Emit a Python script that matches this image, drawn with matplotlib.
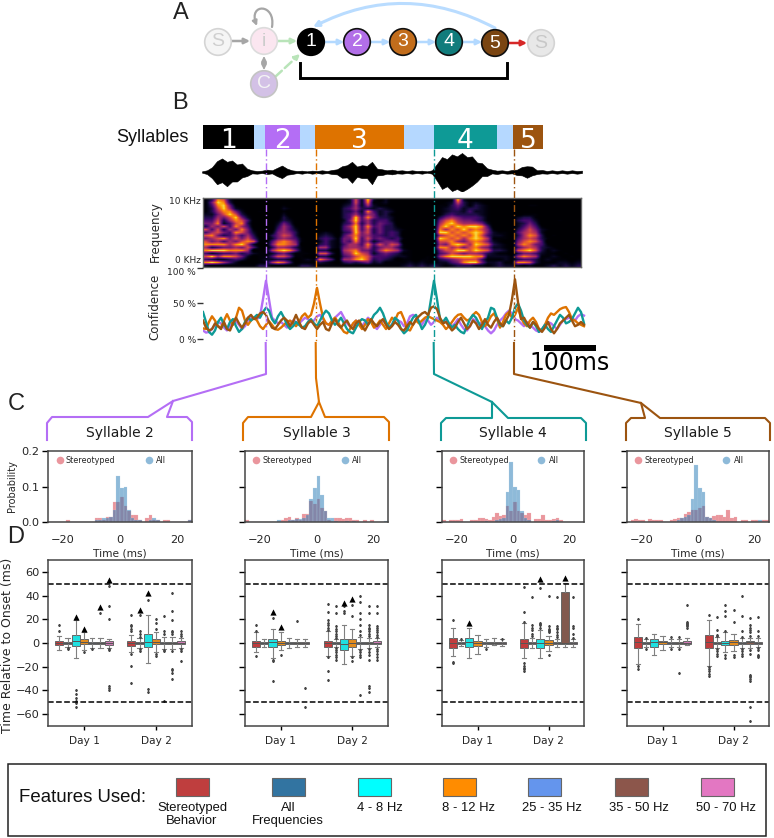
import matplotlib
matplotlib.use("Agg")
import matplotlib.pyplot as plt
import numpy as np
from matplotlib.colors import PowerNorm
from matplotlib.patches import Circle, FancyArrowPatch, Rectangle
from matplotlib.path import Path

FIG_W, FIG_H = 774, 838

# syllable bar, times in ms from the start of the song
SYL_NAMES = ["1", "2", "3", "4", "5"]
SYL_START = [0, 120, 216, 444, 597]
SYL_END = [98, 186, 386, 565, 654]
SYL_COLORS = ["#000000", "#b46ef5", "#de7300", "#0e9a96", "#9c5410"]
SONG_END = 654
MS_PER_PX = 1.923

# waveform envelope, one value every 9.6 ms
WAVE_UP = [2, 5, 14, 32, 40, 30, 34, 22, 25, 10, 5, 3, 4, 7, 5, 12, 19, 10, 5, 3, 4, 2, 4, 3, 5, 3,
           6, 8, 17, 20, 30, 16, 20, 18, 30, 10, 8, 5, 7, 4, 5, 3, 5, 3, 4, 2, 5, 24, 44, 38, 52, 46,
           56, 44, 46, 28, 26, 11, 7, 4, 5, 3, 6, 7, 15, 17, 16, 5, 6, 3, 5, 3, 5, 3, 5, 3, 4]
WAVE_DOWN = [2, 6, 18, 36, 30, 42, 28, 28, 16, 12, 4, 5, 3, 6, 4, 12, 18, 8, 6, 3, 5, 2, 5, 3, 5, 3,
             6, 7, 17, 16, 32, 14, 18, 18, 36, 10, 9, 5, 7, 4, 5, 3, 5, 3, 5, 2, 5, 26, 50, 42, 56, 50,
             58, 50, 40, 28, 12, 12, 4, 6, 3, 5, 4, 9, 10, 17, 10, 6, 4, 5, 3, 5, 3, 5, 3, 5, 3]

# spectrogram read by eye, digit = intensity, top row is 10 kHz
SPEC_ROWS = [
    "138720000 00 00000 000 0000 0272920200 000000 001920000 0000 00000 000000",
    "159830000 00 00000 000 0000 1272811200 000000 012731210 0000 00000 000000",
    "148951000 00 00100 000 0000 2362621100 000000 113531321 0000 00110 000000",
    "137962100 00 00210 000 0000 3463323210 000000 123423321 0000 00000 000000",
    "136885200 10 00100 000 0000 3352842320 000000 123324221 0000 00000 000000",
    "225797310 00 00200 000 0000 3463652310 000000 134333321 0000 01110 000000",
    "336579520 00 00310 000 0000 3494853320 000000 356544431 0000 23310 000000",
    "447368740 00 01320 000 0000 2594634420 000000 578655431 0000 34420 001000",
    "558247830 00 02530 000 0000 3483635430 000000 689766652 0000 23530 000000",
    "365748640 00 03641 000 0000 4694845331 000000 797989984 0000 24641 000000",
    "747365851 00 04642 000 0000 4594735332 100000 868797875 1000 35752 100000",
    "467548752 00 15653 000 1210 3495735343 000000 997878985 2110 46762 000000",
    "785346463 00 35763 000 2320 4685644343 000000 678787974 2210 36873 010000",
    "567857574 10 25654 100 3431 5594745434 100000 987868986 1110 46763 100000",
    "756465787 10 47875 100 2421 5484624554 000000 778657875 2100 57874 000000",
    "888868962 00 58876 000 3421 4664847576 100000 658986987 3210 68754 100000",
    "634556574 10 36653 100 6621 5665735664 100000 886757865 2210 46763 210000",
    "899988860 10 68985 100 3310 6785536876 210000 577997987 3320 78973 121000",
    "423445342 11 24531 110 7730 5697624543 110000 457656653 2110 35542 110100",
    "796887520 11 47751 100 3310 4578744432 210010 689999882 2221 68761 121010",
    "432234310 12 23320 121 8640 6689734320 110110 345677741 1121 34431 211101",
    "898642000 11 68740 111 3210 3434523111 121211 224589952 2311 88731 112212",
    "211111111 33 11111 332 1111 1111111111 232323 212333221 2322 21211 232323",
]

# confidence traces in percent, one value every 5.8 ms
CONF_PURPLE = [12, 9, 10, 14, 20, 24, 22, 16, 12, 18, 24, 25, 20, 14, 18, 26,
               30, 30, 28, 32, 56, 82, 56, 30, 26, 22, 24, 20, 16, 22, 26, 24,
               22, 26, 30, 28, 24, 26, 32, 34, 28, 22, 20, 24, 30, 34, 38, 30,
               22, 18, 20, 26, 22, 18, 24, 30, 26, 18, 14, 20, 26, 22, 16, 20,
               28, 26, 24, 18, 22, 32, 34, 32, 24, 20, 28, 26, 20, 24, 30, 26,
               22, 26, 20, 18, 22, 28, 20, 14, 12, 18, 28, 26, 20, 24, 18, 12,
               8, 12, 20, 26, 30, 36, 40, 36, 28, 26, 22, 18, 24, 20, 16, 12,
               10, 14, 20, 24, 22, 18, 14, 20, 26, 28, 30, 30, 26, 32, 35, 33]
CONF_ORANGE = [15, 14, 24, 32, 26, 18, 16, 26, 35, 26, 20, 30, 44, 40, 26, 20,
               26, 30, 26, 18, 14, 20, 25, 20, 14, 13, 16, 20, 24, 26, 22, 18,
               24, 32, 36, 30, 34, 50, 72, 50, 30, 22, 20, 26, 30, 24, 16, 10,
               8, 14, 22, 26, 20, 14, 20, 28, 24, 16, 20, 26, 20, 14, 22, 30,
               26, 36, 38, 28, 14, 12, 20, 26, 22, 26, 30, 32, 30, 28, 26, 24,
               20, 14, 18, 24, 30, 34, 35, 30, 26, 28, 34, 38, 34, 24, 18, 24,
               32, 36, 28, 16, 24, 34, 38, 30, 34, 44, 30, 22, 18, 26, 30, 24,
               14, 12, 20, 30, 36, 34, 38, 42, 44, 45, 38, 28, 26, 22, 20, 18]
CONF_TEAL = [38, 24, 10, 6, 12, 24, 30, 20, 14, 24, 28, 18, 10, 14, 24, 30,
             26, 30, 34, 30, 38, 44, 40, 28, 22, 32, 38, 30, 20, 14, 18, 24,
             20, 16, 18, 24, 28, 22, 18, 26, 34, 40, 36, 26, 20, 24, 30, 22,
             14, 10, 8, 16, 24, 28, 26, 20, 26, 34, 38, 44, 36, 24, 16, 20,
             30, 26, 14, 8, 12, 22, 30, 34, 24, 14, 20, 30, 56, 82, 56, 28,
             24, 30, 22, 16, 20, 14, 10, 8, 18, 28, 34, 30, 22, 14, 24, 30,
             44, 42, 30, 20, 18, 26, 22, 30, 44, 50, 40, 26, 20, 16, 24, 18,
             10, 14, 20, 14, 10, 18, 26, 34, 30, 22, 24, 28, 36, 44, 38, 22]
CONF_BROWN = [26, 16, 12, 14, 22, 18, 14, 24, 14, 12, 22, 30, 22, 16, 22, 30,
              34, 28, 30, 36, 38, 34, 24, 16, 14, 20, 26, 30, 26, 18, 24, 34,
              24, 16, 14, 22, 26, 20, 14, 20, 24, 14, 12, 22, 28, 20, 16, 22,
              26, 18, 14, 22, 26, 18, 12, 20, 28, 22, 18, 24, 28, 20, 14, 18,
              24, 20, 14, 12, 18, 24, 20, 28, 32, 36, 38, 34, 44, 46, 42, 30,
              22, 24, 18, 12, 16, 24, 30, 22, 14, 18, 26, 22, 14, 20, 28, 20,
              16, 24, 30, 22, 18, 26, 34, 56, 84, 52, 28, 30, 22, 16, 24, 20,
              14, 10, 16, 24, 14, 8, 14, 22, 26, 30, 34, 26, 18, 20, 24, 20]

# panel C histograms, 40 bins of 1.25 ms over -25..25
HIST_EDGES = np.linspace(-25, 25, 41)
S2_STEREO = [0, 0, 0, 0, 0, .005, 0, 0, 0, 0,
             0, 0, 0, .01, .01, .005, .015, .015, .055, .055,
             .07, .045, .03, .02, .02, .005, 0, .01, .02, .005,
             .005, 0, .005, .005, 0, 0, 0, 0, 0, .005]
S2_ALL = [0, 0, 0, 0, 0, 0, 0, 0, 0, 0,
          0, 0, 0, .005, .005, .01, .012, .015, .035, .13,
          .095, .1, .035, .012, .005, .005, 0, 0, .005, .01,
          .005, 0, 0, 0, 0, 0, 0, 0, 0, .005]
S3_STEREO = [.005, 0, 0, 0, 0, 0, 0, 0, 0, 0,
             .005, .012, .015, .005, .01, .005, .022, .022, .06, .05,
             .065, .04, .03, .005, 0, .01, .01, .008, .01, .01,
             .005, .005, 0, .005, 0, .005, 0, 0, 0, 0]
S3_ALL = [0, 0, 0, 0, 0, 0, 0, 0, 0, .005,
          0, 0, .005, .005, .008, .008, .01, .02, .065, .095,
          .13, .075, .03, .012, .01, .003, 0, 0, .003, 0,
          .003, 0, 0, 0, 0, 0, 0, 0, 0, .003]
S4_STEREO = [.005, 0, .005, .005, .005, .008, 0, 0, .005, .007,
             .01, .01, .008, .005, .015, .025, .017, .02, .045, .03,
             .055, .03, .025, .02, .025, 0, .008, .008, .02, .005,
             .005, .008, .01, .005, 0, 0, 0, 0, 0, 0]
S4_ALL = [0, 0, 0, 0, 0, 0, 0, 0, 0, 0,
          0, 0, .003, 0, 0, .005, .008, .012, .085, .17,
          .1, .09, .03, .01, .005, 0, 0, 0, 0, 0,
          0, .003, .005, 0, 0, 0, 0, 0, 0, 0]
S5_STEREO = [0, .005, .008, .005, .005, 0, .008, .007, .005, .005,
             0, 0, .005, .008, .01, .012, .022, .027, .035, .035,
             .04, .045, .015, .012, .017, .02, .02, .013, .035, .012,
             .015, 0, .005, .005, 0, .005, .005, 0, .005, .005]
S5_ALL = [0, 0, 0, 0, 0, 0, 0, 0, 0, 0,
          0, 0, 0, 0, .005, .01, .015, .02, .065, .16,
          .095, .085, .015, .01, .005, 0, 0, 0, 0, 0,
          0, 0, 0, 0, 0, 0, 0, .005, 0, 0]

# panel D boxes: (q1, median, q3, whisker low, whisker high), one per feature
S2_D1_BOX = [(-2, 0, 2, -5.5, 6), (-1, 0, 1, -3, 4), (-2.5, 2, 7, -13, 19), (-1, 1, 3, -6, 9),
             (-1, 0, 1, -4, 4), (-1, 0, 1, -4.5, 4), (-1.5, 0, 1.5, -4, 3)]
S2_D1_FLIERS = [[10, 15], [-4, -5], [-40, -43, -46, -49, -51, -54], [-8], [-5], [25],
                [48, 31, 20, -5, -6, -36, -38, -40]]
S2_D1_MARKS = [None, None, 22, 12, None, 30, 53]
S2_D2_BOX = [(-2.5, 0, 2, -8, 7), (-1, 0, 1, -4, 4), (-3, 1, 8, -17, 24), (-1, 1, 3, -8, 9),
             (-1, 0, 1, -5, 5), (-1, 0, 1, -5, 5), (-1, 0, 1.5, -4, 4)]
S2_D2_FLIERS = [[10, 12, 14, 15, 24, -9, -19, -34], [5, 8, 10, 24, -5, -7], [36, -39, -41],
                [12, 17, 20, -9, -11], [8, 10, 23, -7, -6, -49], [8, 9, 10, 19, 27, 42, -7, -22, -23, -25, -30],
                [6, 8, 10, -5, -7, -15]]
S2_D2_MARKS = [None, 28, 42, None, None, None, None]

S3_D1_BOX = [(-3, 0, 2, -8, 9), (-1, 0, 1, -3, 3), (-3, 0.5, 3, -13, 12), (-2, 0, 2, -6, 9),
             (-1, 0, 1, -4, 4), (-0.5, 0, 0.5, -3, 3), (-1, 0, 1, -3, 3)]
S3_D1_FLIERS = [[10, 15, -11], [], [21, -14, -15, -32], [-10], [], [18.5], [-38, -54]]
S3_D1_MARKS = [None, None, 26, 13.5, None, None, None]
S3_D2_BOX = [(-3.5, 0, 2, -11, 10), (-1, 0, 1, -3, 3), (-5.5, -0.5, 3.5, -18, 15), (-3, 0, 3, -11, 12),
             (-1, 0, 1, -5, 5), (-1, 0, 1, -4, 4), (-1, 0, 1.5, -3, 4)]
S3_D2_FLIERS = [[11, 13, 15, 17, 19, 26, 33, -12, -24, -31], [4, 6, 8, 10, 12, 14, 25, 31, -4, -6, -8, -10, -12, -14],
                [25, 27, 31], [23, 32, -12, -15], [7, 10, 15, 20, 25, 35, 40, -6, -8, -10, -12, -44],
                [6, 8, 10, 12, 13, 15, 25, 31, -5, -8, -10, -14, -36, -38, -41],
                [5, 7, 9, 11, 13, 14, 25, 31, -5, -7, -9, -12, -14]]
S3_D2_MARKS = [None, None, 34, 37, None, None, None]

S4_D1_BOX = [(-4, 0, 4, -11, 13), (-1, 0, 1, -2.5, 2.5), (-3.5, 0.5, 4, -13, 13), (-2.5, 0, 2, -9, 7),
             (-0.5, 0, 0.5, -3, 3), (-1, 0, 1, -2, 4), (-0.5, 0, 0.5, -2.5, 3)]
S4_D1_FLIERS = [[-16, -17, 19], [3], [], [], [-5], [], [3.5]]
S4_D1_MARKS = [None, None, 17, None, None, None, None]
S4_D2_BOX = [(-4, 0, 3.5, -13, 17), (-1, 0, 1, -4, 4), (-4, 0, 3, -13, 11), (-2, 0, 2.5, -7, 5.5),
             (-0.5, 0, 0.5, -3, 3), (-0.5, 0, 43, -3, 51), (-1, 0, 1, -3, 3)]
S4_D2_FLIERS = [[18, 26, 47, -17, -19, -21, -22, -24], [6, 8, 11, 13, 15, 39], [13, 15, 16, 17, 46],
                [9, 10, 11, 12, 14, 40, -10], [5, 7, 9, 12, 13, 14, 39], [], [4, 8, 13, 14, 39]]
S4_D2_MARKS = [None, None, 54, None, None, 54.5, None]

S5_D1_BOX = [(-4.5, 0.5, 5, -18, 16), (-1, 0, 1, -3, 3), (-3, 0.5, 3, -10, 8), (-1, 1, 2, -6, 6),
             (-1, 0, 1, -3, 3), (-1, 0, 0.5, -3, 3), (-1, 0, 1.5, -2, 4)]
S5_D1_FLIERS = [[-19, -22, 20], [4, -5], [], [], [5, -5], [5, -5, -25], [13, 14, 15, 16, 17, 18, 32]]
S5_D1_MARKS = [None] * 7
S5_D2_BOX = [(-4, 1, 6.5, -19, 19), (-1, 0, 1, -4, 5), (-2, 0, 2, -8, 9), (-2, 0.5, 2.5, -7, 8),
             (-1, 0, 1, -4, 4), (-1, 1, 2, -4, 4), (-1, 0, 1, -3, 4)]
S5_D2_FLIERS = [[24, -20, -22, -24, -26, -28], [6, 7, 11, 22, -5, -7, -9, -11], [10, 23, 27, 32, -10, -13],
                [18, 28, -10, -12], [5, 10, 23, 40, -5, -7, -9, -11],
                [6, 9, 11, 13, 15, 21, -6, -9, -27, -28, -29, -30, -32, -54, -66], [6, 10, 22, -4, -6, -10, -11, -12]]
S5_D2_MARKS = [None] * 7

FEATURES = ["Stereotyped\nBehavior", "All\nFrequencies", "4 - 8 Hz", "8 - 12 Hz", "25 - 35 Hz", "35 - 50 Hz", "50 - 70 Hz"]
LEGEND_COLORS = ["#bf3e3e", "#3274a1", "#00ffff", "#ff8c00", "#6495ed", "#8c564b", "#e377c2"]
BOX_COLORS = ["#c03d3e", "#3274a1", "#1fe0e0", "#e28b1d", "#6a93d6", "#81594e", "#d17ab6"]

DARK = "#454545"
TICK_TXT = "#262626"


def axes_px(fig, x0, y0, x1, y1):
    # pixel box, y measured from the top of the image
    return fig.add_axes([x0 / FIG_W, 1 - y1 / FIG_H, (x1 - x0) / FIG_W, (y1 - y0) / FIG_H])


def style_spines(ax, width=1.1):
    for spine in ax.spines.values():
        spine.set_color(DARK)
        spine.set_linewidth(width)


def draw_hist(ax, stereo, all_freq, show_y):
    ax.bar(HIST_EDGES[:-1], stereo, width=1.25, align="edge", color="#d62f3c", alpha=0.5, edgecolor="#f0b8b8", linewidth=0.3)
    ax.bar(HIST_EDGES[:-1], all_freq, width=1.25, align="edge", color="#1f77b4", alpha=0.5, edgecolor="#bcd5e8", linewidth=0.3)
    ax.set_xlim(-25, 25)
    ax.set_ylim(0, 0.2)
    ax.set_xticks([-20, 0, 20])
    ax.set_yticks([0, 0.1, 0.2])
    ax.tick_params(axis="x", length=0, pad=9, labelsize=8.2, labelcolor=TICK_TXT)
    ax.tick_params(axis="y", length=4, width=1, pad=2, labelsize=8.2, labelcolor=TICK_TXT, labelleft=show_y)
    ax.set_xlabel("Time (ms)", fontsize=7.7, labelpad=3, color=TICK_TXT)
    if show_y:
        ax.set_ylabel("Probability", fontsize=7, labelpad=3, color=TICK_TXT)
    ax.scatter([0.08], [0.87], s=30, color="#d62f3c", alpha=0.5, transform=ax.transAxes, linewidths=0)
    ax.scatter([0.7], [0.87], s=30, color="#1f77b4", alpha=0.5, transform=ax.transAxes, linewidths=0)
    ax.text(0.125, 0.87, "Stereotyped", transform=ax.transAxes, fontsize=5.8, va="center", color=TICK_TXT)
    ax.text(0.75, 0.87, "All", transform=ax.transAxes, fontsize=5.8, va="center", color=TICK_TXT)
    style_spines(ax)


def draw_boxes(ax, day_boxes, day_fliers, day_marks, show_y):
    hue_w = 0.8 / 7
    for day, (boxes, fliers, marks) in enumerate(zip(day_boxes, day_fliers, day_marks)):
        pos = [day - 0.4 + hue_w * (k + 0.5) for k in range(7)]
        stats = [dict(q1=b[0], med=b[1], q3=b[2], whislo=b[3], whishi=b[4], fliers=f) for b, f in zip(boxes, fliers)]
        art = ax.bxp(stats, positions=pos, widths=hue_w, patch_artist=True, manage_ticks=False,
                     boxprops=dict(edgecolor="#666666", linewidth=0.7),
                     medianprops=dict(color="#555555", linewidth=0.7),
                     whiskerprops=dict(color="#808080", linewidth=0.8),
                     capprops=dict(color="#808080", linewidth=0.8),
                     flierprops=dict(marker="d", markersize=1.1, markerfacecolor="#444444", markeredgecolor="#444444", linewidth=0))
        for patch, col in zip(art["boxes"], BOX_COLORS):
            patch.set_facecolor(col)
        for x, m in zip(pos, marks):
            if m is not None:
                ax.scatter([x], [m], marker="^", s=20, color="black", linewidths=0, zorder=5)
    ax.axhline(50, color="black", linestyle="--", linewidth=1.1)
    ax.axhline(-50, color="black", linestyle="--", linewidth=1.1)
    ax.set_xlim(-0.5, 1.5)
    ax.set_ylim(-70, 70)
    ax.set_xticks([0, 1])
    ax.set_xticklabels(["Day 1", "Day 2"])
    ax.set_yticks([-60, -40, -20, 0, 20, 40, 60])
    ax.set_yticklabels(["\u221260", "\u221240", "\u221220", "0", "20", "40", "60"])
    ax.tick_params(axis="x", length=3, width=1, pad=4, labelsize=7.6, labelcolor=TICK_TXT)
    ax.tick_params(axis="y", length=4, width=1, pad=2, labelsize=8.2, labelcolor=TICK_TXT, labelleft=show_y)
    style_spines(ax)


fig = plt.figure(figsize=(FIG_W / 100, FIG_H / 100), dpi=100, facecolor="white")

# song axes share the same ms scale
t_left = 203
ax_syl = axes_px(fig, t_left, 125, 544, 149)
ax_syl.set_xlim(0, (544 - t_left) * MS_PER_PX)
ax_syl.set_ylim(0, 1)
ax_syl.axis("off")
ax_syl.add_patch(Rectangle((0, 0), SONG_END, 1, color="#b5d8ff", linewidth=0))
ax_syl.bar(SYL_START, [1] * 5, width=np.array(SYL_END) - np.array(SYL_START), align="edge", color=SYL_COLORS)
for name, s, e in zip(SYL_NAMES, SYL_START, SYL_END):
    ax_syl.text((s + e) / 2, 0.47, name, color="white", fontsize=19, ha="center", va="center_baseline")

ax_wave = axes_px(fig, 202, 153, 586, 191)
ax_wave.set_ylim(-56, 56)
wave_t = np.arange(len(WAVE_UP)) * 5 * MS_PER_PX
ax_wave.fill_between(wave_t, WAVE_UP, -np.array(WAVE_DOWN), color="black", linewidth=0.4)
ax_wave.set_xlim(0, 384 * MS_PER_PX)
ax_wave.axis("off")

ax_spec = axes_px(fig, 203, 198, 581, 267)
spec = np.array([[int(c) for c in row.replace(" ", "")] for row in SPEC_ROWS], dtype=float)
ax_spec.imshow(spec, aspect="auto", cmap="inferno", interpolation="bilinear", norm=PowerNorm(1.8, vmin=0, vmax=9.5))
ax_spec.set_xticks([])
ax_spec.set_yticks([])
for s in ax_spec.spines.values():
    s.set_color("#666666")
    s.set_linewidth(1)

ax_conf = axes_px(fig, 203, 268, 586, 339)
ax_conf.patch.set_alpha(0)
conf_t = np.arange(len(CONF_PURPLE)) * 3 * MS_PER_PX
for series, col in zip([CONF_PURPLE, CONF_ORANGE, CONF_TEAL, CONF_BROWN], SYL_COLORS[1:]):
    ax_conf.plot(conf_t, series, color=col, linewidth=1.7)
ax_conf.set_xlim(0, 383 * MS_PER_PX)
ax_conf.set_ylim(0, 100)
ax_conf.set_xticks([])
ax_conf.set_yticks([0, 50, 100])
ax_conf.set_yticklabels(["0 %", "50 %", "100 %"])
ax_conf.tick_params(axis="y", length=4, width=1, pad=1, labelsize=6.5, labelcolor=TICK_TXT, color="#333333")
ax_conf.get_yticklabels()[2].set_verticalalignment("top")
for s in ax_conf.spines.values():
    s.set_visible(False)

# panel C and D
panel_x = [(48, 192), (245, 388), (442, 584), (627, 769)]
hist_data = [(S2_STEREO, S2_ALL), (S3_STEREO, S3_ALL), (S4_STEREO, S4_ALL), (S5_STEREO, S5_ALL)]
box_data = [
    ((S2_D1_BOX, S2_D2_BOX), (S2_D1_FLIERS, S2_D2_FLIERS), (S2_D1_MARKS, S2_D2_MARKS)),
    ((S3_D1_BOX, S3_D2_BOX), (S3_D1_FLIERS, S3_D2_FLIERS), (S3_D1_MARKS, S3_D2_MARKS)),
    ((S4_D1_BOX, S4_D2_BOX), (S4_D1_FLIERS, S4_D2_FLIERS), (S4_D1_MARKS, S4_D2_MARKS)),
    ((S5_D1_BOX, S5_D2_BOX), (S5_D1_FLIERS, S5_D2_FLIERS), (S5_D1_MARKS, S5_D2_MARKS)),
]
for i, (x0, x1) in enumerate(panel_x):
    draw_hist(axes_px(fig, x0, 451, x1, 522), *hist_data[i], i == 0)
    draw_boxes(axes_px(fig, x0, 560, x1, 726), *box_data[i], i == 0)

# everything else lives on an overlay in image pixels
ov = fig.add_axes([0, 0, 1, 1], zorder=20)
ov.set_xlim(0, FIG_W)
ov.set_ylim(FIG_H, 0)
ov.axis("off")


def node(x, y, label, face, edge, txt, lw=1.2, size=14):
    ov.add_patch(Circle((x, y), 13.3, facecolor=face, edgecolor=edge, linewidth=lw, zorder=3))
    ov.text(x, y, label, color=txt, fontsize=size, ha="center", va="center", zorder=4, family="Liberation Sans")


def arrow(p0, p1, col, lw=1.8, style="-|>", rad=0.0, ls="-"):
    ov.add_patch(FancyArrowPatch(p0, p1, arrowstyle=style, mutation_scale=8, color=col, linewidth=lw, linestyle=ls,
                                 connectionstyle=f"arc3,rad={rad}", shrinkA=0, shrinkB=0, zorder=2))


# panel A
node(218, 42, "S", "#f5f5f5", "#d4d4d4", "#cfcfcf")
node(264, 41, "i", "#fbe6f0", "#dcdcdc", "#cccccc")
node(264, 84, "C", "#d3c1e6", "#c4c4c4", "#f4f4f4")
node(311, 42, "1", "#000000", "#000000", "white")
node(357, 42, "2", "#b26fe8", "#111111", "white")
node(403, 42, "3", "#c26d1c", "#111111", "white")
node(449, 42, "4", "#117c7c", "#111111", "white")
node(495, 43, "5", "#7a4512", "#111111", "white")
node(541, 43, "S", "#e8e8e8", "#d4d4d4", "#c8c8c8")
arrow((231, 41), (250, 41), "#a6a6a6")
arrow((278, 41), (297, 41), "#b9e4b9")
arrow((264, 56), (264, 70), "#a6a6a6", style="<|-|>", lw=1.2)
arrow((275, 77), (300, 54), "#b9e4b9", ls="--")
loop = Path([(272, 27), (276, 3), (248, 3), (257, 26)], [Path.MOVETO, Path.CURVE4, Path.CURVE4, Path.CURVE4])
ov.add_patch(FancyArrowPatch(path=loop, arrowstyle="-|>", mutation_scale=7, color="#a6a6a6", linewidth=1.6, zorder=2))
for a, b in [(325, 344), (371, 390), (417, 436), (463, 482)]:
    arrow((a, 42), (b, 42), "#b3d9ff")
arrow((509, 43), (527, 43), "#d62828")
arrow((495, 28), (313, 27), "#b9dcff", rad=0.26, lw=2.2)
ov.plot([300, 300, 507, 507], [63, 78, 78, 63], color="black", linewidth=2.1, solid_joinstyle="miter")

# panel letters
for letter, lx, ly in [("A", 181, 13), ("B", 180, 103), ("C", 16, 404), ("D", 16, 537)]:
    ov.text(lx, ly, letter, fontsize=17, ha="center", va="center", family="Liberation Sans", color="#222222")

# song panel labels
ov.text(189, 137, "Syllables", fontsize=13, ha="right", va="center", family="Liberation Sans", color="#111111")
ov.text(201, 201, "10 KHz", fontsize=6.5, ha="right", va="center", color=TICK_TXT)
ov.text(201, 260, "0 KHz", fontsize=6.5, ha="right", va="center", color=TICK_TXT)
ov.text(155, 232, "Frequency", fontsize=8.5, rotation=90, ha="center", va="center", color=TICK_TXT)
ov.text(155, 307, "Confidence", fontsize=8.5, rotation=90, ha="center", va="center", color=TICK_TXT)
ov.text(8, 645, "Time Relative to Onset (ms)", fontsize=9, rotation=90, ha="center", va="center", color=TICK_TXT)
ov.add_patch(Rectangle((544, 345), 52, 6, color="black", linewidth=0))
ov.text(570, 363, "100ms", fontsize=17, ha="center", va="center", color="black")

# onset guides and callouts around each syllable title
guide_x = [265.7, 315.7, 433.7, 514.0]
callouts = [
    [(47, 440), (47, 423), (52, 417), (148, 417), (173, 401), (266, 374)],
    [(243, 440), (243, 423), (248, 417), (311, 417), (319, 402), (316, 378)],
    [(441, 440), (441, 423), (446, 418), (492, 418), (492, 402), (434, 374)],
    [(626, 440), (626, 423), (631, 418), (645, 418), (641, 403), (514, 374)],
]
returns = [
    [(173, 401), (167, 417), (187, 417), (192, 422), (192, 440)],
    [(319, 402), (325, 417), (384, 417), (389, 422), (389, 440)],
    [(492, 402), (508, 418), (581, 418), (586, 423), (586, 440)],
    [(641, 403), (660, 418), (765, 418), (770, 423), (770, 440)],
]
titles = ["Syllable 2", "Syllable 3", "Syllable 4", "Syllable 5"]
for i, gx in enumerate(guide_x):
    col = SYL_COLORS[i + 1]
    ov.plot([gx, gx], [149, 343], color=col, linewidth=1.0, linestyle=(0, (5, 2, 1, 2)))
    ov.plot([gx, gx], [296, 325], color="white", linewidth=0.6, linestyle=(0, (2, 3)), alpha=0.8)
    pts = callouts[i] + [(gx, 343)]
    ov.plot([p[0] for p in pts], [p[1] for p in pts], color=col, linewidth=1.5)
    back = returns[i]
    ov.plot([p[0] for p in back], [p[1] for p in back], color=col, linewidth=1.5)
    ov.text((panel_x[i][0] + panel_x[i][1]) / 2, 433, titles[i], fontsize=10, ha="center", va="center", color="#1a1a1a")

# features legend
ov.add_patch(Rectangle((8, 764), 758, 72, facecolor="white", edgecolor="#222222", linewidth=1.1))
ov.text(19, 797, "Features Used:", fontsize=13.4, va="center", family="Liberation Sans", color="#111111")
swatch_x = [176, 272, 358, 443, 528, 615, 701]
label_x = [192, 288, 380, 469, 552, 639, 726]
for sx, lx, name, col in zip(swatch_x, label_x, FEATURES, LEGEND_COLORS):
    ov.add_patch(Rectangle((sx, 778), 33, 18, facecolor=col, edgecolor="#666666", linewidth=0.8))
    ov.text(lx, 802, name, fontsize=9.4, ha="center", va="top", family="Liberation Sans", color="#111111", linespacing=1.15)

fig.savefig("out.png", dpi=100)
